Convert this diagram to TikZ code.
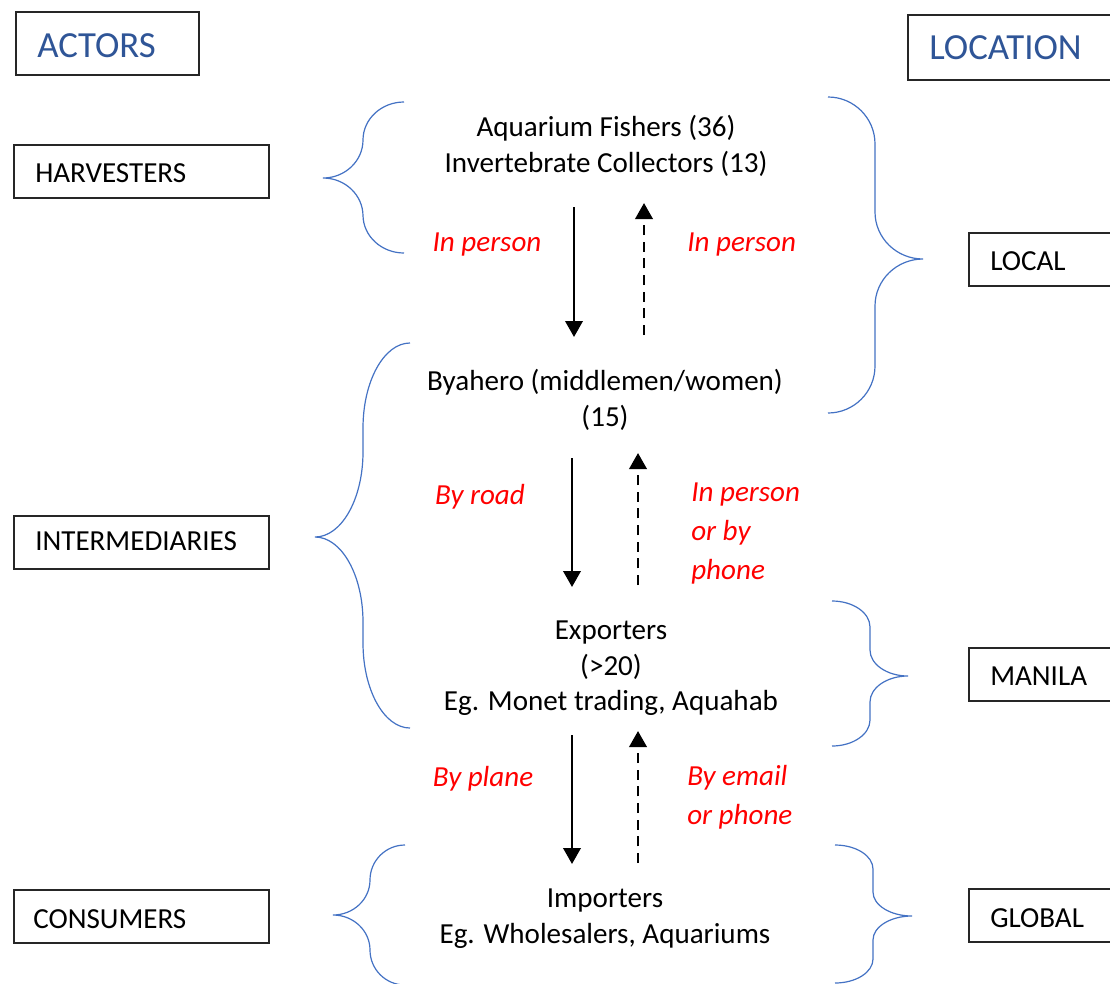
\documentclass[tikz,border=0pt]{standalone}
\usepackage{fontspec}
\setmainfont{Carlito}
\usetikzlibrary{arrows.meta}
\definecolor{bracecol}{HTML}{4472C4}
\definecolor{titlecol}{HTML}{2F5597}
\definecolor{labelred}{HTML}{FF0000}
\definecolor{frame}{HTML}{262626}

% Curly brace: tip x, middle x, point x, top y, point y, bottom y, curve radius
\newcommand\curlybrace[7]{%
  \draw[bracestroke]
    (#1,#4) .. controls ({#1+0.552*(#2-#1)},#4) and (#2,{#4+0.448*#7}) .. (#2,{#4+#7})
    -- (#2,{#5-#7}) .. controls (#2,{#5-0.448*#7}) and ({#3+0.552*(#2-#3)},#5) .. (#3,#5)
    .. controls ({#3+0.552*(#2-#3)},#5) and (#2,{#5+0.448*#7}) .. (#2,{#5+#7})
    -- (#2,{#6-#7}) .. controls (#2,{#6-0.448*#7}) and ({#1+0.552*(#2-#1)},#6) .. (#1,#6);}

\begin{document}
\begin{tikzpicture}[x=0.75pt,y=-0.75pt,
  every node/.style={font=\fontsize{21.8pt}{26.5pt}\selectfont, inner sep=0pt},
  bracestroke/.style={draw=bracecol, line width=0.9pt},
  catbox/.style={draw=frame, line width=1.4pt, minimum width=191.25pt, minimum height=39.75pt, anchor=north west},
  placebox/.style={catbox, minimum width=125pt},
  titlebox/.style={draw=frame, line width=1.4pt, minimum height=47pt, anchor=north west},
  title/.style={font=\fontsize{27.6pt}{32pt}\selectfont, text=titlecol, anchor=west},
  cat/.style={anchor=west},
  actor/.style={align=center},
  how/.style={font=\fontsize{21.8pt}{29.25pt}\selectfont\itshape, text=labelred},
  flow/.style={line width=2pt, -{Triangle[width=13pt,length=12pt]}},
  reply/.style={flow, dash pattern=on 7.5pt off 5pt}]

\useasboundingbox (0,0) rectangle (1110,983);
\clip (0,0) rectangle (1110,983);
\fill[white] (0,0) rectangle (1110,983);

% column headings
\node[titlebox, minimum width=137.25pt] (actorsbox) at (15,11) {};
\node[title] (actors) at (37,46) {ACTORS};
\node[titlebox, minimum width=170pt, minimum height=48.75pt] (locbox) at (907,14) {};
\node[title] (location) at (929,48) {LOCATION};

% actor categories
\node[catbox] (harvbox) at (13,144) {};
\node[cat] (harv) at (35,173) {HARVESTERS};
\node[catbox] (interbox) at (13,515) {};
\node[cat] (inter) at (35,541) {INTERMEDIARIES};
\node[catbox] (consbox) at (13,889) {};
\node[cat] (cons) at (33,919) {CONSUMERS};

% locations
\node[placebox] (localbox) at (968,232) {};
\node[cat] (local) at (990,261) {LOCAL};
\node[placebox] (manilabox) at (968,647) {};
\node[cat] (manila) at (990,676) {MANILA};
\node[placebox] (globalbox) at (968,888) {};
\node[cat] (global) at (990,918) {GLOBAL};

% actors along the chain
\node[actor] (fishers) at (606,146) {Aquarium Fishers (36)\\Invertebrate Collectors (13)};
\node[actor, font=\fontsize{21.8pt}{27pt}\selectfont] (byahero) at (605,400) {Byahero (middlemen/women)\\(15)};
\node[actor, font=\fontsize{21.8pt}{26.6pt}\selectfont] (exporters) at (611,668.5) {Exporters\\(>20)\\Eg. Monet trading, Aquahab};
\node[actor, font=\fontsize{21.8pt}{27pt}\selectfont] (importers) at (605,919) {Importers\\Eg. Wholesalers, Aquariums};

% braces grouping actors and locations
\curlybrace{404}{363}{323}{102}{178}{253}{38}
\curlybrace{410}{363}{315}{343}{537}{728}{85}
\curlybrace{405}{370}{333}{845}{915}{985}{35}
\curlybrace{828}{875}{923}{97}{259}{413}{47}
\curlybrace{832}{870}{908}{601}{676}{746}{26}
\curlybrace{835}{873}{912}{845}{916}{983}{24}

% flows: goods go down, orders come back up
\coordinate (d1s) at (574,207); \coordinate (d1e) at (574,337);
\coordinate (u1s) at (644,335); \coordinate (u1e) at (644,203);
\coordinate (d2s) at (572,458); \coordinate (d2e) at (572,587);
\coordinate (u2s) at (638,585); \coordinate (u2e) at (638,453);
\coordinate (d3s) at (572,735); \coordinate (d3e) at (572,864);
\coordinate (u3s) at (638,863); \coordinate (u3e) at (638,731);
\draw[flow] (d1s) -- (d1e);
\draw[reply] (u1s) -- (u1e);
\draw[flow] (d2s) -- (d2e);
\draw[reply] (u2s) -- (u2e);
\draw[flow] (d3s) -- (d3e);
\draw[reply] (u3s) -- (u3e);

% channel labels
\node[how] (h1) at (487,245) {In person};
\node[how, anchor=west] (h2) at (687,245) {In person};
\node[how] (h3) at (480,497) {By road};
\node[how, anchor=west, align=left] (h4) at (691,534) {In person\\or by\\phone};
\node[how] (h5) at (483,779) {By plane};
\node[how, anchor=west, align=left] (h6) at (687,797) {By email\\or phone};
\end{tikzpicture}
\end{document}
